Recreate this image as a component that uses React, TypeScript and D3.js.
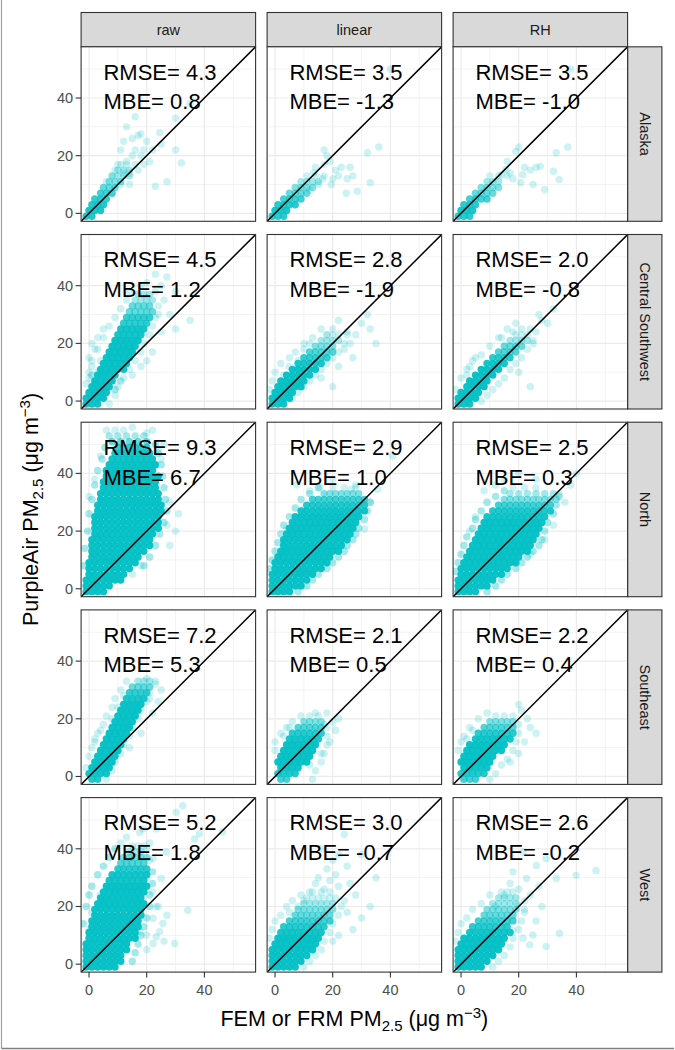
import React from 'react';
import * as d3 from 'd3';

// ---------- chart values ----------
const methods = ['raw', 'linear', 'RH'];
const regions = ['Alaska', 'Central Southwest', 'North', 'Southeast', 'West'];
const rmseValues = [
  [4.3, 3.5, 3.5],
  [4.5, 2.8, 2.0],
  [9.3, 2.9, 2.5],
  [7.2, 2.1, 2.2],
  [5.2, 3.0, 2.6],
];
const mbeValues = [
  [0.8, -1.3, -1.0],
  [1.2, -1.9, -0.8],
  [6.7, 1.0, 0.3],
  [5.3, 0.5, 0.4],
  [1.8, -0.7, -0.2],
];
const axisTicks = [0, 20, 40];
const minorTicks = [10, 30, 50];
const axisDomain = [-2.75, 57.75];

// Dense parts of each cloud, read row by row: [y, overlapping obs count, x, x, ...]
// Sparse points: [x, y, count?]
const alaskaRawCore = [
  [-1, 9, -1, 1], [1, 10, 0, 2, 4], [3, 9, 1, 3, 5], [5, 7, 2, 4, 6], [7, 6, 4, 6, 8],
  [9, 4, 5, 7, 9], [11, 3, 7, 9, 11], [13, 2, 8, 10, 12, 14], [15, 2, 10, 12, 14], [17, 1, 11, 13, 16],
];
const alaskaRawPts = [
  [16, 33.5], [17, 27], [18, 27.5], [30, 33], [35, 38], [24.5, 28], [30, 22], [32, 17.5], [23, 9.4], [27, 11],
  [12, 25], [15, 20], [11, 22], [13, 18], [16, 22], [18, 20], [20, 25], [19, 17], [21, 18], [14, 14],
  [17, 15], [13, 30], [15, 26], [10, 17], [12, 14], [8, 13], [9, 15], [6, 11], [19, 22], [22, 22], [25, 24], [11, 10], [14, 10],
];
const alaskaLinCore = [
  [-1, 8, -1, 1, 3], [1, 10, 0, 2, 4], [3, 8, 1, 3, 5, 7], [5, 6, 3, 5, 7, 9], [7, 4, 5, 7, 9, 11],
  [9, 3, 7, 9, 11, 13], [11, 2, 9, 11, 13, 15], [13, 1, 11, 14, 17],
];
const alaskaLinPts = [
  [17, 22], [18, 20], [17, 17], [13.4, 14], [21, 15], [23, 16], [26, 16], [27, 13], [33, 10.6], [28.5, 7.7],
  [24.7, 7], [32, 21], [36, 23], [19.5, 10], [16.5, 12], [14, 16], [20, 12], [22, 13], [15, 10], [12, 8],
  [40, 50], [19, 18], [25, 12],
];
const alaskaRhCore = [
  [-1, 8, -1, 1, 3], [1, 10, 0, 2, 4], [3, 8, 1, 3, 5], [5, 6, 3, 5, 7, 9], [7, 4, 5, 7, 9, 11],
  [9, 3, 7, 9, 11, 13], [11, 2, 9, 11, 13], [13, 1, 10, 13, 16],
];
const alaskaRhPts = [
  [19, 21.5], [20, 23], [33, 21], [37, 23], [26, 16], [27.5, 16.3], [32, 14.6], [34, 11.7], [25, 10], [29, 8.3],
  [21.4, 13.4], [20.7, 10.6], [15.5, 15.2], [14, 13.4], [17, 14], [18, 12], [16, 18], [22, 16], [24, 15], [38, 50],
];

const cswRawCore = [
  [-1, 12, -1, 1, 3], [1, 14, -1, 1, 3, 5], [3, 14, 0, 2, 4, 6], [5, 14, 1, 3, 5, 7], [7, 14, 2, 4, 6, 8],
  [9, 14, 3, 5, 7, 9], [11, 14, 4, 6, 8, 10, 12], [13, 14, 5, 7, 9, 11, 13], [15, 14, 6, 8, 10, 12, 14],
  [17, 14, 7, 9, 11, 13, 15], [19, 14, 8, 10, 12, 14, 16], [21, 14, 9, 11, 13, 15, 17], [23, 11, 10, 12, 14, 16, 18],
  [25, 11, 11, 13, 15, 17, 19], [27, 7, 12, 14, 16, 18, 20], [29, 7, 13, 15, 17, 19, 21], [31, 4, 14, 16, 18, 20, 22],
  [33, 4, 15, 17, 19, 21], [35, 2, 16, 18, 20, 22], [37, 2, 17, 19, 21],
];
const cswRawPts = [
  [0, 8], [1, 12], [0, 15], [2, 18], [3, 22], [1, 20], [5, 25], [25, 40], [27, 43], [23, 44], [20, 41], [30, 38],
  [28, 30], [25, 24], [22, 17], [30, 25], [35, 28], [18, 12], [20, 14], [15, 9], [4, 14], [3, 10], [26, 35],
  [24, 30], [23, 38], [18, 40], [2, 6, 2], [1, 9, 2], [9, 4, 2], [11, 7, 2],
  [-1, 6], [0, 10], [1, 14], [3, 18], [5, 22], [7, 26], [9, 29], [11, 32], [13, 35], [14, 38],
  [7, -1], [9, 2], [10, 5], [12, 8], [14, 11], [16, 14], [18, 17], [19, 20], [21, 23], [22, 26], [23, 29], [24, 33],
];
const cswLinCore = [
  [-1, 12, -1, 1, 3], [1, 14, -1, 1, 3, 5], [3, 14, 0, 2, 4, 6], [5, 14, 1, 3, 5, 7, 9], [7, 14, 2, 4, 6, 8, 10],
  [9, 14, 4, 6, 8, 10, 12], [11, 14, 6, 8, 10, 12, 14], [13, 10, 8, 10, 12, 14, 16], [15, 7, 10, 12, 14, 16, 18],
  [17, 5, 12, 14, 16, 18, 20], [19, 3, 14, 16, 18, 20], [21, 2, 16, 18, 20, 22], [23, 1, 18, 20, 22],
];
const cswLinPts = [
  [25, 24], [28, 23], [30, 27], [24, 18], [26, 20], [20, 25], [18, 23], [22, 28], [12, 20], [10, 18], [8, 14],
  [5, 12], [3, 9], [27, 15], [32, 30], [33, 25], [22, 12], [16, 8], [20, 5], [35, 20],
  [-2, 4], [-1, 7], [0, 10], [2, 13], [5, 15], [7, 17], [10, 20], [13, 22], [16, 25],
  [6, 1], [8, 3], [10, 5], [12, 7], [14, 9], [16, 11], [18, 13], [20, 15], [22, 17], [24, 20], [25, 23],
];
const cswRhCore = [
  [-1, 12, -1, 1, 3], [1, 14, -1, 1, 3, 5], [3, 14, 0, 2, 4, 6], [5, 14, 2, 4, 6, 8], [7, 14, 3, 5, 7, 9],
  [9, 14, 5, 7, 9, 11], [11, 14, 7, 9, 11, 13], [13, 11, 9, 11, 13, 15], [15, 8, 11, 13, 15, 17],
  [17, 5, 13, 15, 17, 19], [19, 4, 15, 17, 19, 21], [21, 2, 17, 19, 21, 23], [23, 1, 19, 21, 23], [25, 1, 21, 24],
];
const cswRhPts = [
  [28, 28], [30, 27], [27, 30], [32, 32], [25, 20], [20, 10], [24, 5], [3, 12], [5, 15], [2, 9], [14, 22], [18, 24],
  [-2, 4], [0, 8], [2, 11], [4, 14], [7, 16], [10, 19], [13, 22], [16, 25], [19, 27],
  [7, 0], [9, 2], [11, 4], [13, 6], [15, 8], [17, 11], [19, 13], [21, 15], [23, 18], [25, 21], [26, 24],
];

const northRawCore = [
  [-1, 14, -1, 1, 3, 5], [1, 14, -1, 1, 3, 5, 7], [3, 14, -1, 1, 3, 5, 7, 9, 11], [5, 14, 0, 2, 4, 6, 8, 10, 12],
  [7, 14, 0, 2, 4, 6, 8, 10, 12, 14], [9, 14, 0, 2, 4, 6, 8, 10, 12, 14, 16],
  [11, 14, 1, 3, 5, 7, 9, 11, 13, 15, 17], [13, 14, 1, 3, 5, 7, 9, 11, 13, 15, 17, 19],
  [15, 14, 1, 3, 5, 7, 9, 11, 13, 15, 17, 19, 21], [17, 14, 1, 3, 5, 7, 9, 11, 13, 15, 17, 19, 21],
  [19, 14, 2, 4, 6, 8, 10, 12, 14, 16, 18, 20, 22], [21, 14, 2, 4, 6, 8, 10, 12, 14, 16, 18, 20, 22, 24],
  [23, 14, 2, 4, 6, 8, 10, 12, 14, 16, 18, 20, 22, 24], [25, 14, 2, 4, 6, 8, 10, 12, 14, 16, 18, 20, 22, 24],
  [27, 14, 3, 5, 7, 9, 11, 13, 15, 17, 19, 21, 23, 25], [29, 14, 3, 5, 7, 9, 11, 13, 15, 17, 19, 21, 23, 25],
  [31, 14, 4, 6, 8, 10, 12, 14, 16, 18, 20, 22, 24], [33, 14, 4, 6, 8, 10, 12, 14, 16, 18, 20, 22, 24],
  [35, 14, 5, 7, 9, 11, 13, 15, 17, 19, 21, 23], [37, 14, 5, 7, 9, 11, 13, 15, 17, 19, 21, 23],
  [39, 14, 6, 8, 10, 12, 14, 16, 18, 20, 22, 24], [41, 14, 6, 8, 10, 12, 14, 16, 18, 20, 22],
  [43, 14, 7, 9, 11, 13, 15, 17, 19, 21, 23], [45, 12, 8, 10, 12, 14, 16, 18, 20, 22],
  [47, 10, 9, 11, 13, 15, 17, 19, 21], [49, 7, 10, 12, 14, 16, 18, 20], [51, 4, 8, 11, 14, 17, 20],
  [53, 2, 7, 10, 13, 16, 19],
];
const northRawPts = [
  [31, 26], [28, 30], [27, 22], [25, 45], [26, 50], [22, 55], [6, 55], [4, 46], [2, 38], [0, 32], [30, 20],
  [28, 15], [15, 5], [18, 8], [24, 48], [12, 55],
  [-2, 8, 2], [-1.5, 14, 2], [-0.5, 20, 2], [0, 26, 2], [1, 31, 2], [2, 36, 2], [3, 41, 2], [4.5, 45, 2], [5.5, 49, 2],
  [19, 8, 2], [21, 11, 2], [23, 15, 2], [24.5, 19, 2], [26, 23, 2], [27, 27, 2], [26.5, 31, 2], [26, 35, 2],
  [25.5, 39, 2], [25, 43, 2], [24, 47, 2], [23, 50, 2], [9, 55], [15, 56], [20, 54],
];
const northLinCore = [
  [-1, 14, -1, 1, 3, 5], [1, 14, -1, 1, 3, 5, 7, 9], [3, 14, -1, 1, 3, 5, 7, 9, 11], [5, 14, -1, 1, 3, 5, 7, 9, 11, 13],
  [7, 14, 0, 2, 4, 6, 8, 10, 12, 14, 16], [9, 14, 0, 2, 4, 6, 8, 10, 12, 14, 16, 18],
  [11, 14, 1, 3, 5, 7, 9, 11, 13, 15, 17, 19], [13, 14, 2, 4, 6, 8, 10, 12, 14, 16, 18, 20, 22],
  [15, 14, 3, 5, 7, 9, 11, 13, 15, 17, 19, 21, 23], [17, 14, 3, 5, 7, 9, 11, 13, 15, 17, 19, 21, 23, 25],
  [19, 14, 4, 6, 8, 10, 12, 14, 16, 18, 20, 22, 24, 26], [21, 14, 5, 7, 9, 11, 13, 15, 17, 19, 21, 23, 25, 27],
  [23, 14, 6, 8, 10, 12, 14, 16, 18, 20, 22, 24, 26, 28], [25, 14, 7, 9, 11, 13, 15, 17, 19, 21, 23, 25, 27, 29],
  [27, 12, 9, 11, 13, 15, 17, 19, 21, 23, 25, 27, 29, 31], [29, 9, 11, 13, 15, 17, 19, 21, 23, 25, 27, 29, 31],
  [31, 6, 13, 15, 17, 19, 21, 23, 25, 27, 29, 31], [33, 3, 17, 19, 21, 23, 25, 27, 29], [35, 1, 20, 24, 28],
];
const northLinPts = [
  [7.5, 36], [12, 34], [15.5, 35], [9.8, 27.6], [4, 20.7], [35.6, 34.5], [31, 20.7], [40.8, 46], [26.4, 34.5],
  [33, 30], [28, 36], [20, 38], [3, 16], [2, 12],
  [-2, 7, 2], [-1, 10, 2], [0, 13, 2], [1, 16, 2], [2, 19, 2], [3, 22, 2], [5, 25, 2], [7, 28, 2], [9, 31, 2], [12, 33, 2],
  [15, 35, 2], [8, -1, 2], [11, 1, 2], [13, 3, 2], [15, 5, 2], [18, 7, 2], [20, 9, 2], [22, 11, 2], [24, 13, 2],
  [25, 15, 2], [27, 17, 2], [28, 19, 2], [29, 21, 2], [31, 24, 2], [32, 27, 2], [33, 30, 2],
];
const northRhCore = [
  [-1, 14, -1, 1, 3, 5], [1, 14, -1, 1, 3, 5, 7, 9], [3, 14, -1, 1, 3, 5, 7, 9, 11], [5, 14, 0, 2, 4, 6, 8, 10, 12, 14],
  [7, 14, 0, 2, 4, 6, 8, 10, 12, 14, 16], [9, 14, 1, 3, 5, 7, 9, 11, 13, 15, 17, 19],
  [11, 14, 2, 4, 6, 8, 10, 12, 14, 16, 18, 20], [13, 14, 3, 5, 7, 9, 11, 13, 15, 17, 19, 21, 23],
  [15, 14, 4, 6, 8, 10, 12, 14, 16, 18, 20, 22, 24], [17, 14, 5, 7, 9, 11, 13, 15, 17, 19, 21, 23, 25],
  [19, 14, 6, 8, 10, 12, 14, 16, 18, 20, 22, 24, 26], [21, 14, 7, 9, 11, 13, 15, 17, 19, 21, 23, 25, 27],
  [23, 14, 8, 10, 12, 14, 16, 18, 20, 22, 24, 26, 28], [25, 11, 9, 11, 13, 15, 17, 19, 21, 23, 25, 27, 29],
  [27, 9, 11, 13, 15, 17, 19, 21, 23, 25, 27, 29, 31], [29, 6, 13, 15, 17, 19, 21, 23, 25, 27, 29, 31],
  [31, 3, 15, 17, 19, 21, 23, 25, 27, 29, 31, 33], [33, 2, 17, 20, 23, 26, 29, 32], [35, 1, 18, 22, 26],
];
const northRhPts = [
  [20, 40], [15, 38], [8, 34], [5, 25], [3, 20], [34, 33], [36, 30], [29, 17], [32, 22], [38, 36], [26, 38],
  [24, 12], [40, 40], [12, 36],
  [-2, 6, 2], [-1, 9, 2], [0, 12, 2], [1, 15, 2], [2, 18, 2], [4, 21, 2], [5, 24, 2], [7, 27, 2], [9, 30, 2], [12, 32, 2],
  [15, 34, 2], [9, -1, 2], [12, 1, 2], [14, 3, 2], [16, 5, 2], [19, 7, 2], [21, 9, 2], [23, 11, 2], [25, 13, 2],
  [27, 15, 2], [28, 17, 2], [29, 20, 2], [30, 23, 2], [32, 26, 2], [33, 29, 2], [34, 32, 2],
];

const seRawCore = [
  [-1, 9, 1, 3], [1, 12, 0, 2, 4, 6], [3, 14, 1, 3, 5, 7], [5, 14, 2, 4, 6, 8], [7, 14, 3, 5, 7, 9], [9, 14, 4, 6, 8, 10],
  [11, 14, 5, 7, 9, 11], [13, 14, 6, 8, 10, 12], [15, 14, 7, 9, 11, 13], [17, 14, 8, 10, 12, 14], [19, 14, 9, 11, 13, 15],
  [21, 14, 10, 12, 14, 16], [23, 14, 11, 13, 15, 17], [25, 14, 12, 14, 16, 18], [27, 10, 13, 15, 17, 19],
  [29, 7, 14, 16, 18, 20], [31, 4, 15, 17, 19, 21], [33, 2, 17, 19, 21],
];
const seRawPts = [
  [23, 33], [20, 34], [25, 30], [12, 28], [10, 24], [14, 10], [18, 15], [22, 22], [8, 20], [2, 12], [4, 16],
  [6, 4], [24, 26], [21, 27], [16, 22], [7, 14],
  [-1, 3], [0, 7], [1, 10], [2, 13], [3, 15], [5, 18], [6, 21], [8, 24], [9, 27], [11, 30], [13, 33],
  [6, -1], [8, 2], [9, 5], [11, 8], [12, 11], [14, 14], [15, 17], [17, 20], [18, 23], [20, 26], [21, 29], [23, 32],
];
const seLinCore = [
  [-1, 6, 2, 4], [1, 9, 1, 3, 5, 7], [3, 12, 2, 4, 6, 8], [5, 14, 1, 3, 5, 7, 9, 11], [7, 14, 2, 4, 6, 8, 10, 12],
  [9, 14, 3, 5, 7, 9, 11, 13], [11, 14, 4, 6, 8, 10, 12, 14], [13, 11, 5, 7, 9, 11, 13, 15], [15, 8, 6, 8, 10, 12, 14, 16],
  [17, 5, 8, 10, 12, 14, 16], [19, 3, 10, 12, 14, 16], [21, 1, 12, 15],
];
const seLinPts = [
  [14, 22], [18, 22], [20, 19], [21, 16], [19, 12], [16, 8], [3, 14], [5, 17], [12, 4], [22, 20], [17, 18],
  [0, 9], [0, 12], [2, 15], [4, 17], [6, 19], [9, 21], [13, -1], [14, 2], [16, 5], [17, 8], [18, 11], [18, 14], [18, 17],
];
const seRhCore = [
  [-1, 6, 1, 3, 5], [1, 9, 0, 2, 4, 6, 8], [3, 12, 1, 3, 5, 7, 9], [5, 14, 0, 2, 4, 6, 8, 10], [7, 14, 1, 3, 5, 7, 9, 11],
  [9, 14, 2, 4, 6, 8, 10, 12, 14], [11, 14, 3, 5, 7, 9, 11, 13, 15], [13, 11, 5, 7, 9, 11, 13, 15, 17],
  [15, 8, 6, 8, 10, 12, 14, 16, 18], [17, 5, 8, 10, 12, 14, 16, 18], [19, 3, 10, 12, 14, 16, 18], [21, 1, 12, 15, 18],
];
const seRhPts = [
  [24, 17], [23, 20], [21, 23], [20, 25], [2, 13], [4, 16], [17, 5], [26, 15], [22, 12], [20, 8],
  [-1, 9], [0, 12], [1, 14], [3, 17], [6, 20], [9, 22], [10, -1], [12, 1], [14, 4], [16, 6], [18, 9], [19, 12],
  [20, 15], [20, 18],
];

const westRawCore = [
  [-1, 14, -1, 1, 3, 5, 7, 9], [1, 14, -1, 1, 3, 5, 7, 9, 11], [3, 14, -1, 1, 3, 5, 7, 9, 11],
  [5, 14, -1, 1, 3, 5, 7, 9, 11, 13], [7, 14, -1, 1, 3, 5, 7, 9, 11, 13], [9, 14, 0, 2, 4, 6, 8, 10, 12, 14, 16],
  [11, 14, 0, 2, 4, 6, 8, 10, 12, 14, 16], [13, 14, 1, 3, 5, 7, 9, 11, 13, 15, 17], [15, 14, 1, 3, 5, 7, 9, 11, 13, 15, 17],
  [17, 14, 2, 4, 6, 8, 10, 12, 14, 16, 18], [19, 14, 2, 4, 6, 8, 10, 12, 14, 16, 18], [21, 14, 3, 5, 7, 9, 11, 13, 15, 17, 19],
  [23, 14, 4, 6, 8, 10, 12, 14, 16, 18], [25, 14, 5, 7, 9, 11, 13, 15, 17, 19], [27, 14, 6, 8, 10, 12, 14, 16, 18, 20],
  [29, 11, 7, 9, 11, 13, 15, 17, 19], [31, 11, 8, 10, 12, 14, 16, 18, 20], [33, 8, 10, 12, 14, 16, 18, 20],
  [35, 5, 11, 13, 15, 17, 19], [37, 3, 12, 14, 16, 18, 20], [39, 2, 14, 16, 18], [41, 1, 15, 17, 19],
];
const westRawPts = [
  [22.2, 15.9], [25.6, 14.1], [17.6, 11.3], [19.9, 10.1], [23.3, 9.5], [29.7, 7.2], [22.2, 7.2], [24.5, 11.3],
  [34.2, 18.7], [23.3, 19.9], [3.8, 23.9], [32.5, 54.9], [46.3, 45.8], [38.3, 45.2], [36.6, 43.4], [30.2, 52.7],
  [23.3, 46.9], [26.8, 38.9], [25, 29.7], [22.2, 36.6], [14.7, 37.1], [18.7, 46.9], [17.6, 45.7], [21, 42],
  [0, 12], [1, 18], [20, 30], [22, 25], [24, 20], [27, 17], [26, 8], [20, 5],
  [-2, 14, 2], [-1, 20, 2], [0, 24, 2], [1, 27, 2], [3, 31, 2], [5, 34, 2], [7, 37, 2], [9, 40, 2], [11, 42], [13, 44],
  [15, 1, 2], [16, 4, 2], [17, 7, 2], [18, 10, 2], [19, 13, 2], [20, 16, 2], [21, 20, 2], [21, 24, 2], [22, 28, 2],
  [22, 32, 2], [21, 36], [20, 40],
];
const westLinCore = [
  [-1, 14, -1, 1, 3, 5, 7], [1, 14, -1, 1, 3, 5, 7, 9], [3, 14, -1, 1, 3, 5, 7, 9, 11], [5, 14, -1, 1, 3, 5, 7, 9, 11, 13],
  [7, 14, 0, 2, 4, 6, 8, 10, 12, 14], [9, 14, 1, 3, 5, 7, 9, 11, 13, 15], [11, 11, 2, 4, 6, 8, 10, 12, 14, 16],
  [13, 8, 3, 5, 7, 9, 11, 13, 15, 17], [15, 6, 5, 7, 9, 11, 13, 15, 17, 19], [17, 4, 7, 9, 11, 13, 15, 17, 19],
  [19, 3, 8, 10, 12, 14, 16, 18, 20], [21, 2, 10, 12, 14, 16, 18, 20], [23, 1, 11, 13, 15, 17, 19, 21], [25, 1, 13, 16, 19],
];
const westLinPts = [
  [15, 30], [18, 33], [20, 36], [22, 38], [25, 34], [12, 25], [10, 22], [8, 20], [17, 26], [22, 27], [26, 28],
  [28, 24], [24, 22], [25, 18], [30, 16], [27, 12], [22, 10], [33, 20], [20, 8], [5, 18], [16, 40], [24, 45],
  [30, 38], [35, 30], [19, 29], [14, 28], [21, 31],
  [-2, 9], [-1, 12], [0, 15], [2, 17], [4, 20], [6, 22], [9, 24], [10, -1], [12, 1], [14, 3], [16, 5], [17, 8],
  [19, 11], [20, 14], [22, 17], [23, 20],
];
const westRhCore = [
  [-1, 14, -1, 1, 3, 5, 7], [1, 14, -1, 1, 3, 5, 7, 9], [3, 14, -1, 1, 3, 5, 7, 9, 11], [5, 14, -1, 1, 3, 5, 7, 9, 11, 13],
  [7, 14, 0, 2, 4, 6, 8, 10, 12, 14], [9, 14, 1, 3, 5, 7, 9, 11, 13, 15], [11, 11, 3, 5, 7, 9, 11, 13, 15, 17],
  [13, 8, 4, 6, 8, 10, 12, 14, 16], [15, 6, 6, 8, 10, 12, 14, 16, 18], [17, 4, 8, 10, 12, 14, 16, 18],
  [19, 3, 9, 11, 13, 15, 17, 19], [21, 2, 11, 13, 15, 17, 19], [23, 2, 13, 15, 17, 19], [25, 1, 14, 16, 18],
];
const westRhPts = [
  [21.5, 38.9], [29.5, 36.6], [39.9, 30.8], [46.8, 32.5], [33, 29.7], [22.7, 29.7], [26.1, 34.2], [19.8, 20.4],
  [24.9, 10.1], [29.5, 6.1], [34.1, 10.7], [23.8, 6.7], [21.5, 9], [18, 11.8], [20, 26], [17, 28], [24, 24],
  [27, 27], [15, 24], [22, 18], [26, 15], [12, 20], [18, 32], [28, 20],
  [-2, 8], [-1, 11], [0, 14], [2, 16], [4, 19], [7, 21], [10, 24], [11, -1], [13, 1], [15, 3], [17, 6], [18, 9],
  [20, 12], [21, 15], [22, 19], [22, 22],
];

const coreByPanel = [
  [alaskaRawCore, alaskaLinCore, alaskaRhCore],
  [cswRawCore, cswLinCore, cswRhCore],
  [northRawCore, northLinCore, northRhCore],
  [seRawCore, seLinCore, seRhCore],
  [westRawCore, westLinCore, westRhCore],
];
const ptsByPanel = [
  [alaskaRawPts, alaskaLinPts, alaskaRhPts],
  [cswRawPts, cswLinPts, cswRhPts],
  [northRawPts, northLinPts, northRhPts],
  [seRawPts, seLinPts, seRhPts],
  [westRawPts, westLinPts, westRhPts],
];

// ---------- layout / style ----------
const FONT = '"Liberation Sans", Arial, Helvetica, sans-serif';
const POINT_COLOR = '#00BFC4';
const POINT_ALPHA = 0.2;
const POINT_R = 3.7;
const colLeft = [81.1, 267.1, 453.1];
const rowTop = [46.8, 234.5, 422.2, 609.9, 797.6];
const PANEL = 174.5;
const STRIP = 34.3;

const stackOpacity = (n: number) => 1 - Math.pow(1 - POINT_ALPHA, n);

function Panel({ r, c }: { r: number; c: number }) {
  const x = d3.scaleLinear().domain(axisDomain).range([0, PANEL]);
  const y = d3.scaleLinear().domain(axisDomain).range([PANEL, 0]);
  const id = `clip-${r}-${c}`;
  const pts: { x: number; y: number; n: number }[] = [];
  for (const p of ptsByPanel[r][c]) pts.push({ x: p[0], y: p[1], n: p[2] ?? 1 });
  for (const row of coreByPanel[r][c]) {
    const [yy, n, ...xs] = row;
    for (const xx of xs) pts.push({ x: xx, y: yy, n });
  }
  return (
    <g transform={`translate(${colLeft[c]},${rowTop[r]})`}>
      <defs>
        <clipPath id={id}>
          <rect x={0} y={0} width={PANEL} height={PANEL} />
        </clipPath>
      </defs>
      <rect x={0} y={0} width={PANEL} height={PANEL} fill="#FFFFFF" />
      {minorTicks.map((t) => (
        <g key={'m' + t}>
          <line x1={x(t)} x2={x(t)} y1={0} y2={PANEL} stroke="#EBEBEB" strokeWidth={0.6} />
          <line y1={y(t)} y2={y(t)} x1={0} x2={PANEL} stroke="#EBEBEB" strokeWidth={0.6} />
        </g>
      ))}
      {axisTicks.map((t) => (
        <g key={'M' + t}>
          <line x1={x(t)} x2={x(t)} y1={0} y2={PANEL} stroke="#EBEBEB" strokeWidth={1.2} />
          <line y1={y(t)} y2={y(t)} x1={0} x2={PANEL} stroke="#EBEBEB" strokeWidth={1.2} />
        </g>
      ))}
      <g clipPath={`url(#${id})`}>
        {pts.map((p, i) => (
          <circle key={i} cx={x(p.x)} cy={y(p.y)} r={POINT_R} fill={POINT_COLOR} fillOpacity={stackOpacity(p.n)} />
        ))}
        <line x1={x(axisDomain[0])} y1={y(axisDomain[0])} x2={x(axisDomain[1])} y2={y(axisDomain[1])} stroke="#000" strokeWidth={1.5} />
      </g>
      <text x={x(5)} y={y(49)} fontFamily={FONT} fontSize={22} fill="#000" dominantBaseline="central">
        {`RMSE= ${rmseValues[r][c].toFixed(1)}`}
      </text>
      <text x={x(5)} y={y(38.7)} fontFamily={FONT} fontSize={22} fill="#000" dominantBaseline="central">
        {`MBE= ${mbeValues[r][c].toFixed(1)}`}
      </text>
      <rect x={0} y={0} width={PANEL} height={PANEL} fill="none" stroke="#333333" strokeWidth={1.1} />
    </g>
  );
}

export default function App() {
  const W = 675;
  const H = 1050;
  const x = d3.scaleLinear().domain(axisDomain).range([0, PANEL]);
  const y = d3.scaleLinear().domain(axisDomain).range([PANEL, 0]);
  const bottom = rowTop[4] + PANEL;
  const right = colLeft[2] + PANEL;
  const yMid = (rowTop[0] + bottom) / 2;
  const xMid = (colLeft[0] + right) / 2;
  return (
    <svg width={W} height={H} style={{ position: 'absolute', left: 0, top: 0, background: '#fff' }}>
      <rect x={0} y={0} width={W} height={H} fill="#FFFFFF" />
      <line x1={1.5} x2={1.5} y1={0} y2={H - 1.5} stroke="#A0A0A0" strokeWidth={1.2} />
      <line x1={1.5} x2={W - 1} y1={H - 1.5} y2={H - 1.5} stroke="#808080" strokeWidth={1.5} />

      {/* top strips */}
      {methods.map((m, c) => (
        <g key={m} transform={`translate(${colLeft[c]},${rowTop[0] - STRIP})`}>
          <rect x={0} y={0} width={PANEL} height={STRIP} fill="#D9D9D9" stroke="#333333" strokeWidth={1.1} />
          <text x={PANEL / 2} y={STRIP / 2} textAnchor="middle" dominantBaseline="central" fontFamily={FONT} fontSize={14.5} fill="#1A1A1A">
            {m}
          </text>
        </g>
      ))}
      {/* right strips */}
      {regions.map((reg, r) => (
        <g key={reg} transform={`translate(${right},${rowTop[r]})`}>
          <rect x={0} y={0} width={STRIP} height={PANEL} fill="#D9D9D9" stroke="#333333" strokeWidth={1.1} />
          <text transform={`translate(${STRIP / 2},${PANEL / 2}) rotate(90)`} textAnchor="middle" dominantBaseline="central" fontFamily={FONT} fontSize={14.5} fill="#1A1A1A">
            {reg}
          </text>
        </g>
      ))}

      {regions.map((reg, r) => methods.map((m, c) => <Panel key={`${r}-${c}`} r={r} c={c} />))}

      {/* y axis */}
      {regions.map((reg, r) => (
        <g key={'ya' + r} transform={`translate(${colLeft[0]},${rowTop[r]})`}>
          {axisTicks.map((t) => (
            <g key={t}>
              <line x1={-5.5} x2={0} y1={y(t)} y2={y(t)} stroke="#333333" strokeWidth={1.1} />
              <text x={-8} y={y(t)} textAnchor="end" dominantBaseline="central" fontFamily={FONT} fontSize={14.5} fill="#4D4D4D">
                {t}
              </text>
            </g>
          ))}
        </g>
      ))}
      {/* x axis */}
      {methods.map((m, c) => (
        <g key={'xa' + c} transform={`translate(${colLeft[c]},${bottom})`}>
          {axisTicks.map((t) => (
            <g key={t}>
              <line x1={x(t)} x2={x(t)} y1={0} y2={5.5} stroke="#333333" strokeWidth={1.1} />
              <text x={x(t)} y={18} textAnchor="middle" dominantBaseline="central" fontFamily={FONT} fontSize={14.5} fill="#4D4D4D">
                {t}
              </text>
            </g>
          ))}
        </g>
      ))}

      {/* axis titles */}
      <text x={xMid} y={1026} textAnchor="middle" fontFamily={FONT} fontSize={21.5} fill="#000">
        <tspan>FEM or FRM PM</tspan>
        <tspan dy={5} fontSize={15}>2.5</tspan>
        <tspan dy={-5}> (μg m</tspan>
        <tspan dy={-8} fontSize={15}>−3</tspan>
        <tspan dy={8}>)</tspan>
      </text>
      <text transform={`translate(38,${yMid}) rotate(-90)`} textAnchor="middle" fontFamily={FONT} fontSize={21.5} fill="#000">
        <tspan>PurpleAir PM</tspan>
        <tspan dy={5} fontSize={15}>2.5</tspan>
        <tspan dy={-5}> (μg m</tspan>
        <tspan dy={-8} fontSize={15}>−3</tspan>
        <tspan dy={8}>)</tspan>
      </text>
    </svg>
  );
}
